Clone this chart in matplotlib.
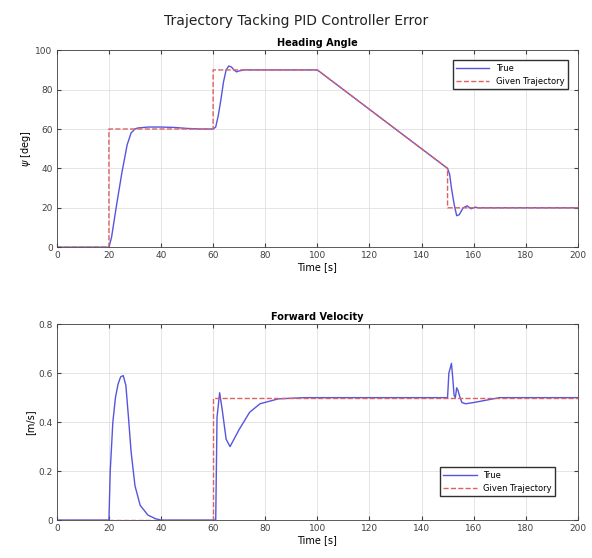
import numpy as np
import matplotlib
matplotlib.use("Agg")
from matplotlib import pyplot as plt

# heading angle [deg]
t_head = [0, 20, 21, 23, 25, 27, 28.5, 30, 31, 35, 40, 45, 50, 55, 60, 61, 62, 63, 64, 65, 66, 67, 68, 69, 70, 72, 75,
          100, 150, 150.8, 151.5, 152.5, 153.5, 154.5, 156, 157.5, 159, 160.5, 162, 200]
head_true = [0, 0, 5, 22, 38, 52, 58, 60, 60.5, 61, 61, 60.8, 60.3, 60, 60, 61, 67, 75, 84, 90, 92, 91.5, 90, 89, 89.5, 90, 90,
             90, 40, 37, 30, 22, 16, 16.5, 20, 21, 19.5, 20.3, 20, 20]
t_head_ref = [0, 20, 20, 60, 60, 100, 150, 150, 200]
head_ref = [0, 0, 60, 60, 90, 90, 40, 20, 20]

# forward velocity [m/s]
t_vel = [0, 20, 20.5, 21.5, 22.5, 23.5, 24.5, 25.5, 26.5, 27.5, 28.5, 30, 32, 35, 38, 40, 61, 61.5, 62.5, 63.5, 65, 66.5,
         70, 74, 78, 85, 95, 100, 150, 150.5, 151.5, 152, 152.5, 153, 153.5, 154, 154.5, 155.5, 157, 160, 165, 170, 200]
vel_true = [0, 0, 0.2, 0.4, 0.5, 0.555, 0.585, 0.59, 0.55, 0.42, 0.28, 0.14, 0.06, 0.02, 0.005, 0, 0, 0.42, 0.52, 0.45,
            0.33, 0.3, 0.37, 0.44, 0.475, 0.495, 0.5, 0.5, 0.5, 0.6, 0.64, 0.58, 0.51, 0.5, 0.54, 0.53, 0.51, 0.48, 0.475,
            0.48, 0.49, 0.5, 0.5]
t_vel_ref = [0, 60, 60, 200]
vel_ref = [0, 0, 0.5, 0.5]

fig = plt.figure(figsize=(5.92, 5.58), dpi=100)
fig.suptitle("Trajectory Tacking PID Controller Error", fontsize=10, y=0.975, color="#222222")

ax1 = fig.add_axes([0.096, 0.557, 0.880, 0.353])
ax2 = fig.add_axes([0.096, 0.068, 0.880, 0.351])

def style(ax, title, ylabel):
  ax.set_title(title, fontsize=7, fontweight="bold", pad=3)
  ax.set_xlabel("Time [s]", fontsize=7, labelpad=1)
  ax.set_ylabel(ylabel, fontsize=7, labelpad=2)
  ax.set_xlim(0, 200)
  ax.set_xticks(np.arange(0, 201, 20))
  ax.grid(True, color="#e0e0e0", linewidth=0.6)
  ax.set_axisbelow(True)
  ax.tick_params(direction="in", labelsize=6.5, top=True, right=True, length=3, colors="#404040", pad=3)
  for s in ax.spines.values():
    s.set_color("#404040")
    s.set_linewidth(0.6)

ax1.plot(t_head, head_true, color="#5555dd", lw=1.0, label="True")
ax1.plot(t_head_ref, head_ref, color="#e06060", lw=1.0, ls="--", label="Given Trajectory")
style(ax1, "Heading Angle", r"$\psi$ [deg]")
ax1.set_ylim(0, 100)
ax1.legend(loc="upper right", fontsize=6, frameon=True, fancybox=False, edgecolor="#303030",
           framealpha=1, borderaxespad=1.2, handlelength=4)

ax2.plot(t_vel, vel_true, color="#5555dd", lw=1.0, label="True")
ax2.plot(t_vel_ref, vel_ref, color="#e06060", lw=1.0, ls="--", label="Given Trajectory")
style(ax2, "Forward Velocity", "[m/s]")
ax2.set_ylim(0, 0.8)
ax2.set_yticks([0, 0.2, 0.4, 0.6, 0.8])
ax2.set_yticklabels(["0", "0.2", "0.4", "0.6", "0.8"])
ax2.legend(loc="lower right", fontsize=6, frameon=True, fancybox=False, edgecolor="#303030",
           framealpha=1, bbox_to_anchor=(0.965, 0.1), handlelength=4)

fig.savefig("out.png", dpi=100)
